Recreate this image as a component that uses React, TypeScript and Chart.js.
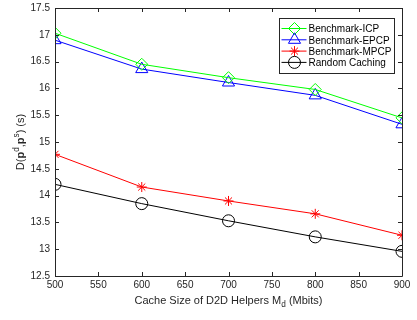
import { useEffect, useRef } from 'react';
import { Chart, registerables } from 'chart.js';

Chart.register(...registerables);

const cacheSizes = [500, 600, 700, 800, 900];
const icp = [17.03, 16.45, 16.2, 15.98, 15.45];
const epcp = [16.9, 16.36, 16.11, 15.87, 15.33];
const mpcp = [14.77, 14.16, 13.9, 13.66, 13.26];
const randomCaching = [14.21, 13.85, 13.53, 13.23, 12.96];
const xTicks = [500, 550, 600, 650, 700, 750, 800, 850, 900];
const yTicks = [12.5, 13, 13.5, 14, 14.5, 15, 15.5, 16, 16.5, 17, 17.5];
const seriesNames = ['Benchmark-ICP', 'Benchmark-EPCP', 'Benchmark-MPCP', 'Random Caching'];
const seriesColors = ['#00ff00', '#0000ff', '#ff0000', '#000000'];
const seriesMarkers = ['rectRot', 'triangle', 'star', 'circle'];
const markerSizes = [6, 7, 5, 6];

const FONT = "'Liberation Sans', Arial, sans-serif";
const TEXT = '#262626';

function drawMarker(ctx: CanvasRenderingContext2D, style: string, x: number, y: number, r: number, color: string) {
  ctx.save();
  ctx.strokeStyle = color;
  ctx.lineWidth = 1;
  ctx.beginPath();
  if (style === 'rectRot') {
    ctx.moveTo(x, y - r);
    ctx.lineTo(x + r, y);
    ctx.lineTo(x, y + r);
    ctx.lineTo(x - r, y);
    ctx.closePath();
  } else if (style === 'triangle') {
    for (let i = 0; i < 3; i++) {
      const a = (i * 2 * Math.PI) / 3;
      const px = x + Math.sin(a) * r;
      const py = y - Math.cos(a) * r;
      if (i === 0) ctx.moveTo(px, py);
      else ctx.lineTo(px, py);
    }
    ctx.closePath();
  } else if (style === 'star') {
    for (let i = 0; i < 4; i++) {
      const a = (i * Math.PI) / 4;
      ctx.moveTo(x - Math.cos(a) * r, y - Math.sin(a) * r);
      ctx.lineTo(x + Math.cos(a) * r, y + Math.sin(a) * r);
    }
  } else {
    ctx.arc(x, y, r, 0, Math.PI * 2);
  }
  ctx.stroke();
  ctx.restore();
}

function drawRich(ctx: CanvasRenderingContext2D, parts: { t: string; b?: boolean; sup?: boolean; sub?: boolean }[], size: number) {
  const fontFor = (p: any) => `${p.b ? 'bold ' : ''}${p.sup || p.sub ? size * 0.75 : size}px ${FONT}`;
  let total = 0;
  for (const p of parts) {
    ctx.font = fontFor(p);
    total += ctx.measureText(p.t).width;
  }
  let x = -total / 2;
  for (const p of parts) {
    ctx.font = fontFor(p);
    const dy = p.sup ? -size * 0.4 : p.sub ? size * 0.35 : 0;
    ctx.fillText(p.t, x, dy);
    x += ctx.measureText(p.t).width;
  }
}

const framePlugin = {
  id: 'frame',
  afterDraw(chart: any) {
    const { ctx, chartArea: ca, scales } = chart;
    ctx.save();
    ctx.strokeStyle = TEXT;
    ctx.lineWidth = 1;
    ctx.beginPath();
    ctx.rect(Math.round(ca.left) + 0.5, Math.round(ca.top) + 0.5, Math.round(ca.right - ca.left), Math.round(ca.bottom - ca.top));
    const tl = 4;
    for (const v of xTicks) {
      const px = Math.round(scales.x.getPixelForValue(v)) + 0.5;
      ctx.moveTo(px, ca.bottom);
      ctx.lineTo(px, ca.bottom - tl);
      ctx.moveTo(px, ca.top);
      ctx.lineTo(px, ca.top + tl);
    }
    for (const v of yTicks) {
      const py = Math.round(scales.y.getPixelForValue(v)) + 0.5;
      ctx.moveTo(ca.left, py);
      ctx.lineTo(ca.left + tl, py);
      ctx.moveTo(ca.right, py);
      ctx.lineTo(ca.right - tl, py);
    }
    ctx.stroke();

    // axis titles
    ctx.fillStyle = TEXT;
    ctx.textBaseline = 'middle';
    ctx.textAlign = 'left';
    ctx.save();
    ctx.translate((ca.left + ca.right) / 2, 301);
    drawRich(ctx, [
      { t: 'Cache Size of D2D Helpers M' },
      { t: 'd', sub: true },
      { t: ' (Mbits)' },
    ], 11);
    ctx.restore();
    ctx.save();
    ctx.translate(21, (ca.top + ca.bottom) / 2);
    ctx.rotate(-Math.PI / 2);
    drawRich(ctx, [
      { t: 'D(' },
      { t: 'p', b: true },
      { t: 'd', sup: true },
      { t: ',' },
      { t: 'p', b: true },
      { t: 's', sup: true },
      { t: ') (s)' },
    ], 11);
    ctx.restore();

    // legend
    const bx = Math.round(ca.right) - 123 + 0.5;
    const by = Math.round(ca.top) + 10 + 0.5;
    const bw = 115;
    const bh = 55;
    ctx.fillStyle = '#ffffff';
    ctx.fillRect(bx, by, bw, bh);
    ctx.strokeStyle = TEXT;
    ctx.strokeRect(bx, by, bw, bh);
    ctx.font = `10px ${FONT}`;
    ctx.textBaseline = 'middle';
    ctx.textAlign = 'left';
    for (let i = 0; i < seriesNames.length; i++) {
      const ry = by + 10 + i * 11.3;
      ctx.strokeStyle = seriesColors[i];
      ctx.beginPath();
      ctx.moveTo(bx + 2, ry);
      ctx.lineTo(bx + 27, ry);
      ctx.stroke();
      drawMarker(ctx, seriesMarkers[i], bx + 15, ry, markerSizes[i], seriesColors[i]);
      ctx.fillStyle = '#000000';
      ctx.fillText(seriesNames[i], bx + 29, ry + 1);
    }
    ctx.restore();
  },
};

export default function App() {
  const ref = useRef<HTMLCanvasElement | null>(null);
  useEffect(() => {
    if (!ref.current) return;
    const seriesData = [icp, epcp, mpcp, randomCaching];
    const chart = new Chart(ref.current, {
      type: 'line',
      data: {
        datasets: seriesNames.map((name, i) => ({
          label: name,
          data: cacheSizes.map((x, j) => ({ x, y: seriesData[i][j] })),
          borderColor: seriesColors[i],
          backgroundColor: 'transparent',
          pointBackgroundColor: 'transparent',
          pointBorderColor: seriesColors[i],
          pointStyle: seriesMarkers[i] as any,
          pointRadius: markerSizes[i],
          pointBorderWidth: 1,
          borderWidth: 1,
          tension: 0,
          fill: false,
        })),
      },
      options: {
        animation: false,
        responsive: false,
        layout: { padding: { left: 0, top: 5, right: 15, bottom: 0 } },
        plugins: { legend: { display: false }, tooltip: { enabled: false } },
        scales: {
          x: {
            type: 'linear',
            min: 500,
            max: 900,
            grid: { display: false, drawTicks: false },
            border: { display: false },
            afterBuildTicks: (s: any) => {
              s.ticks = xTicks.map((v) => ({ value: v }));
            },
            ticks: { color: TEXT, font: { family: FONT, size: 10 }, padding: 3, maxRotation: 0, autoSkip: false, callback: (v: any) => String(v) },
            afterFit: (s: any) => {
              s.height = 44;
              s.paddingLeft = 0;
              s.paddingRight = 0;
            },
          },
          y: {
            type: 'linear',
            min: 12.5,
            max: 17.5,
            grid: { display: false, drawTicks: false },
            border: { display: false },
            afterBuildTicks: (s: any) => {
              s.ticks = yTicks.map((v) => ({ value: v }));
            },
            ticks: { color: TEXT, font: { family: FONT, size: 10 }, padding: 5, autoSkip: false, callback: (v: any) => String(v) },
            afterFit: (s: any) => {
              s.width = 55;
              s.paddingTop = 0;
              s.paddingBottom = 0;
            },
          },
        },
      },
      plugins: [framePlugin],
    });
    return () => chart.destroy();
  }, []);
  return (
    <div style={{ position: 'fixed', left: 0, top: 0, width: 417, height: 320, background: '#fff' }}>
      <canvas ref={ref} width={417} height={320} style={{ display: 'block' }} />
    </div>
  );
}
